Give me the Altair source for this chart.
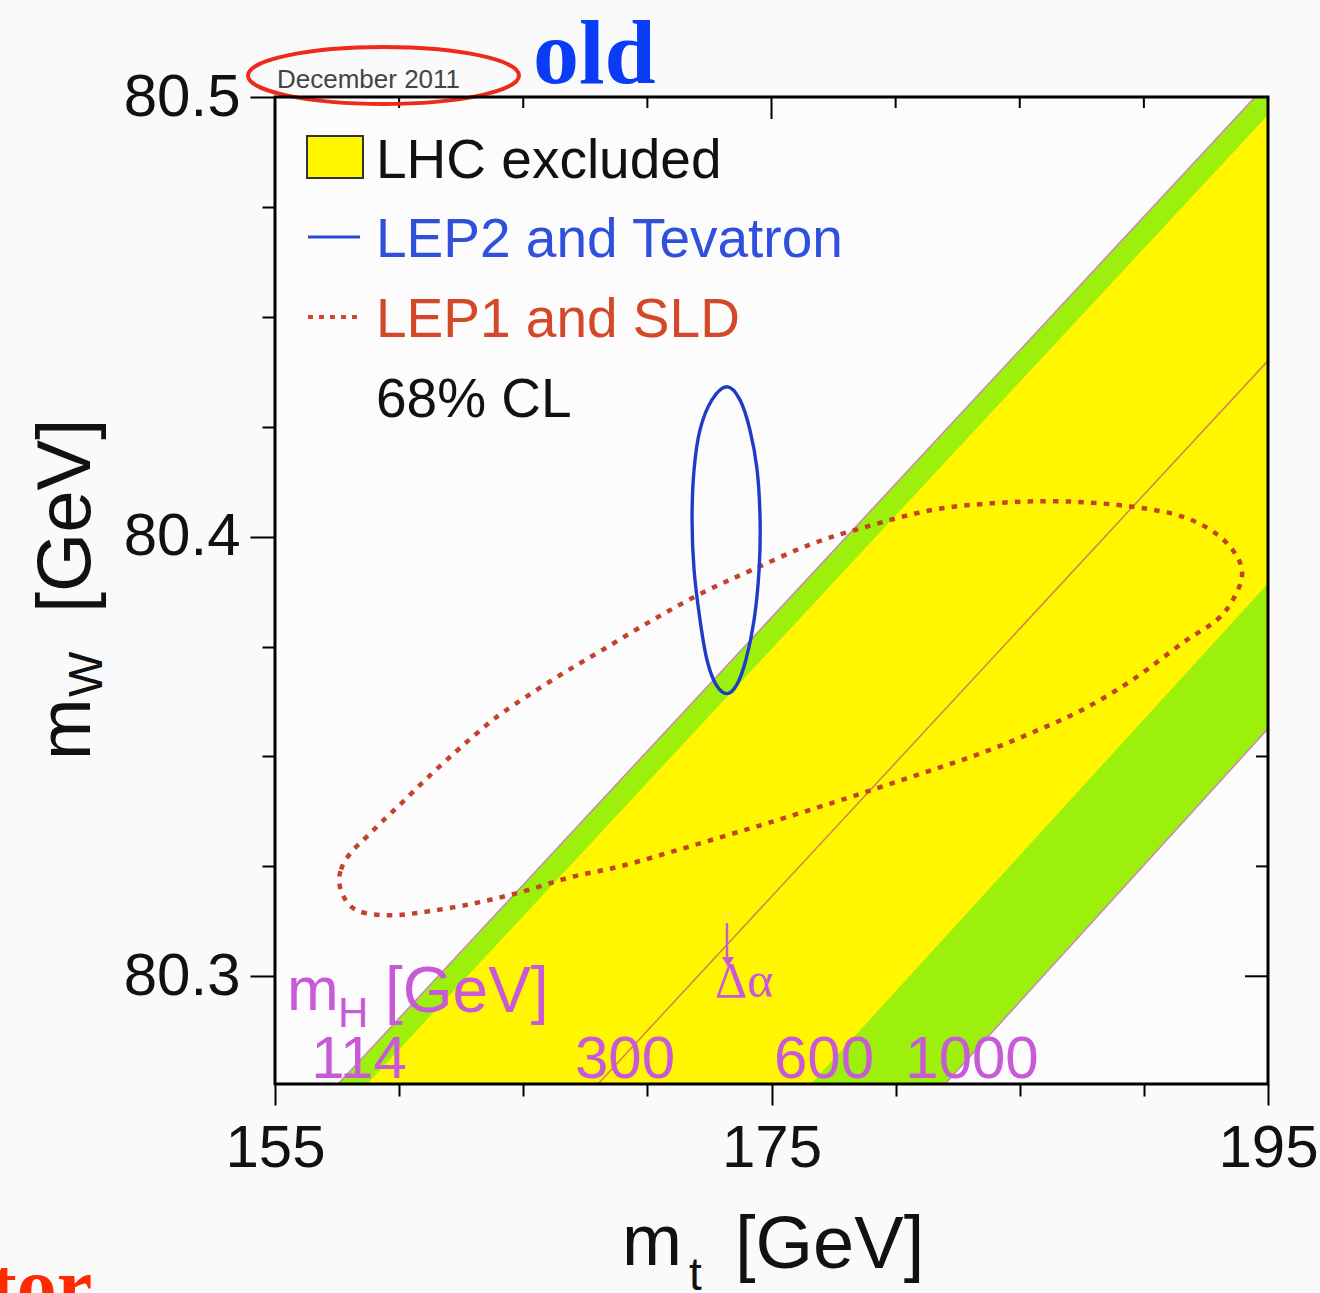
import altair as alt
import pandas as pd

# ---------------- data ----------------
x_domain = [155, 195]
y_domain = [80.2755, 80.5]
x_tick_values = [155, 160, 165, 170, 175, 180, 185, 190, 195]
y_tick_values = [80.3, 80.325, 80.35, 80.375, 80.4, 80.425, 80.45, 80.475, 80.5]
top_major_ticks = [175]
top_minor_ticks = [160, 165, 170, 180, 185, 190]
right_major_ticks = [80.3, 80.4]
right_minor_ticks = [80.325, 80.35, 80.375, 80.425, 80.45, 80.475]

# diagonal mH bands: m_t of each boundary at the bottom and top m_W edge
band_mw = [80.2755, 80.5]
edge_outer_left = [157.54, 194.48]
edge_inner_left = [158.71, 195.67]
line_mh300 = [168.01, 204.84]
edge_inner_right = [176.59, 212.89]
edge_outer_right = [181.99, 218.12]

# LEP2 and Tevatron 68% CL contour
lep2_mt = [173.21, 173.73, 174.13, 174.42, 174.54, 174.50, 174.30, 173.97, 173.61,
           173.21, 172.76, 172.40, 172.12, 171.88, 171.80, 171.88, 172.12, 172.60]
lep2_mw = [80.4341, 80.4311, 80.4243, 80.4152, 80.4039, 80.3925, 80.3811, 80.3720, 80.3664,
           80.3643, 80.3664, 80.3720, 80.3811, 80.3925, 80.4039, 80.4152, 80.4243, 80.4311]

# LEP1 and SLD 68% CL contour
lep1_mt = [157.58, 157.66, 157.86, 158.18, 158.67, 159.31, 160.12, 161.08, 162.17,
           163.18, 164.18, 166.20, 168.21, 170.23, 172.24, 174.25, 176.55, 178.85,
           181.51, 184.20, 186.90, 189.56, 191.58, 192.95, 193.75, 193.95, 193.59,
           192.95, 191.58, 189.56, 187.55, 185.53, 183.52, 181.51, 179.49, 177.48,
           174.94, 172.93, 170.91, 168.90, 166.88, 164.87, 162.86, 160.84, 159.71,
           158.71, 158.10, 157.74]
lep1_mw = [80.3216, 80.3243, 80.3266, 80.3289, 80.3316, 80.3352, 80.3395, 80.3448, 80.3505,
           80.3555, 80.3600, 80.3675, 80.3743, 80.3811, 80.3873, 80.3925, 80.3982, 80.4023,
           80.4061, 80.4077, 80.4080, 80.4068, 80.4045, 80.4005, 80.3955, 80.3909, 80.3857,
           80.3811, 80.3759, 80.3675, 80.3607, 80.3555, 80.3509, 80.3470, 80.3432, 80.3395,
           80.3350, 80.3316, 80.3282, 80.3250, 80.3225, 80.3191, 80.3164, 80.3145, 80.3139,
           80.3143, 80.3157, 80.3184]

mh_labels = ["114", "300", "600", "1000"]
legend_labels = ["LHC excluded", "LEP2 and Tevatron", "LEP1 and SLD", "68% CL"]

# ---------------- styling ----------------
FONT = "Liberation Sans"
SERIF = "Liberation Serif"
YELLOW = "#fff600"
GREEN = "#9cf00c"
BLUE = "#1f3cc8"
RED_DOT = "#c2422a"
MAGENTA = "#c85ad8"
W, H = 993, 987

xscale = alt.Scale(domain=x_domain, nice=False, zero=False)
yscale = alt.Scale(domain=y_domain, nice=False, zero=False)

xaxis = alt.Axis(
    values=x_tick_values, title=None, domain=False, grid=False,
    tickColor="black", tickWidth=2,
    tickSize={"condition": {"test": "(datum.value - 155) % 20 == 0", "value": 21}, "value": 12},
    labelExpr="(datum.value - 155) % 20 == 0 ? datum.label : ''",
    labelFont=FONT, labelFontSize=60, labelColor="#111111", labelPadding=14,
    labelFlush=False, labelOverlap=False,
)
yaxis = alt.Axis(
    values=y_tick_values, title=None, domain=False, grid=False,
    tickColor="black", tickWidth=2,
    tickSize={"condition": {"test": "abs(datum.value*10 - round(datum.value*10)) < 0.001", "value": 25}, "value": 13},
    labelExpr="abs(datum.value*10 - round(datum.value*10)) < 0.001 ? format(datum.value, '.1f') : ''",
    labelFont=FONT, labelFontSize=60, labelColor="#111111", labelPadding=10,
    labelFlush=False, labelOverlap=False,
)


def X(field):
    return alt.X(field, type="quantitative", scale=xscale, axis=xaxis)


def Y(field):
    return alt.Y(field, type="quantitative", scale=yscale, axis=yaxis)


bands = pd.DataFrame({
    "mw": band_mw, "l1": edge_outer_left, "l2": edge_inner_left, "l3": line_mh300,
    "l4": edge_inner_right, "l5": edge_outer_right,
})

# inward ticks on top and right
top_major = alt.Chart(pd.DataFrame({"t": top_major_ticks})).mark_rule(color="black", strokeWidth=2).encode(
    x=X("t"), y=alt.value(0), y2=alt.value(22))
top_minor = alt.Chart(pd.DataFrame({"t": top_minor_ticks})).mark_rule(color="black", strokeWidth=2).encode(
    x=X("t"), y=alt.value(0), y2=alt.value(11))
right_major = alt.Chart(pd.DataFrame({"t": right_major_ticks})).mark_rule(color="black", strokeWidth=2).encode(
    y=Y("t"), x=alt.value(W), x2=alt.value(W - 23))
right_minor = alt.Chart(pd.DataFrame({"t": right_minor_ticks})).mark_rule(color="black", strokeWidth=2).encode(
    y=Y("t"), x=alt.value(W), x2=alt.value(W - 12))

green = alt.Chart(bands).mark_area(orient="horizontal", color=GREEN, clip=True, opacity=1).encode(
    y=Y("mw"), x=X("l1"), x2="l5")
yellow = alt.Chart(bands).mark_area(orient="horizontal", color=YELLOW, clip=True, opacity=1).encode(
    y=Y("mw"), x=X("l2"), x2="l4")

edge_lines = []
for col, colr in [("l1", "#c88cb4"), ("l5", "#c88cb4"), ("l3", "#d4884e")]:
    edge_lines.append(
        alt.Chart(bands).mark_line(color=colr, strokeWidth=1.6, clip=True).encode(
            x=X(col), y=Y("mw"), order=alt.Order("mw:Q"))
    )

lep2 = pd.DataFrame({"mt": lep2_mt, "mw": lep2_mw, "i": list(range(len(lep2_mt)))})
lep1 = pd.DataFrame({"mt": lep1_mt, "mw": lep1_mw, "i": list(range(len(lep1_mt)))})

lep1_line = alt.Chart(lep1).mark_line(
    interpolate="cardinal-closed", color=RED_DOT, strokeWidth=4.5, strokeDash=[5.5, 7.2]
).encode(x=X("mt"), y=Y("mw"), order=alt.Order("i:Q"))
lep2_line = alt.Chart(lep2).mark_line(
    interpolate="cardinal-closed", color=BLUE, strokeWidth=3.4
).encode(x=X("mt"), y=Y("mw"), order=alt.Order("i:Q"))


def txt(text, x, y, size, color="#111111", font=FONT, weight="normal", align="left", angle=0):
    return alt.Chart(pd.DataFrame({"t": [text]})).mark_text(
        font=font, fontSize=size, color=color, fontWeight=weight, align=align,
        baseline="alphabetic", angle=angle,
    ).encode(text="t:N", x=alt.value(x), y=alt.value(y))


one = pd.DataFrame({"t": [0]})

# legend block
swatch = alt.Chart(one).mark_rect(fill=YELLOW, stroke="#333333", strokeWidth=2).encode(
    x=alt.value(32), x2=alt.value(88), y=alt.value(39), y2=alt.value(81))
leg_blue = alt.Chart(one).mark_rule(color="#2a48d0", strokeWidth=3).encode(
    x=alt.value(33), x2=alt.value(85), y=alt.value(140))
leg_red = alt.Chart(one).mark_rule(color="#d4482a", strokeWidth=4, strokeDash=[5, 6]).encode(
    x=alt.value(33), x2=alt.value(85), y=alt.value(220))

legend_texts = [
    txt(legend_labels[0], 101, 81, 55, "#111111"),
    txt(legend_labels[1], 101, 160, 55, "#2f50dc"),
    txt(legend_labels[2], 101, 240, 55, "#d4482a"),
    txt(legend_labels[3], 101, 320, 55, "#111111"),
]

# m_H annotations
mh_texts = [
    txt("m", 12, 913, 62, MAGENTA),
    txt("H", 63, 930, 42, MAGENTA),
    txt("[GeV]", 110, 915, 64, MAGENTA),
    txt(mh_labels[0], 84, 981, 60, MAGENTA, align="center"),
    txt(mh_labels[1], 350, 981, 60, MAGENTA, align="center"),
    txt(mh_labels[2], 549, 981, 60, MAGENTA, align="center"),
    txt(mh_labels[3], 697, 981, 60, MAGENTA, align="center"),
    txt("Δα", 440, 900, 50, MAGENTA, font=SERIF),
]
arrow_line = alt.Chart(one).mark_rule(color=MAGENTA, strokeWidth=2.5).encode(
    x=alt.value(452), y=alt.value(826), y2=alt.value(866))
arrow_head = alt.Chart(one).mark_point(shape="triangle-down", filled=True, size=140,
                                       color=MAGENTA, opacity=1).encode(
    x=alt.value(453), y=alt.value(865))

# axis titles
axis_titles = [
    txt("m", 347, 1168, 72),
    txt("t", 414, 1193, 46),
    txt("[GeV]", 460, 1171, 74),
    txt("m", -185, 663, 74, angle=270),
    txt("W", -173, 600, 48, angle=270),
    txt("[GeV]", -185, 516, 76, angle=270),
]

# slide overlays
overlays = [
    txt("December 2011", 2, -9, 26, "#444444"),
    txt("old", 258, -14, 92, "#0a3cf5", font=SERIF, weight="bold"),
    txt("tor", -285, 1216, 80, "#ff2a00", font=SERIF, weight="bold"),
]
ring = alt.Chart(one).mark_point(
    shape="M -1 0 A 1 0.21 0 1 0 1 0 A 1 0.21 0 1 0 -1 0 Z",
    size=73441, filled=False, stroke="#ee2b1b", strokeWidth=4, opacity=1,
).encode(x=alt.value(108.5), y=alt.value(-21.5))

frame = alt.Chart(one).mark_rect(fillOpacity=0, stroke="black", strokeWidth=3).encode(
    x=alt.value(0), x2=alt.value(W), y=alt.value(0), y2=alt.value(H))

chart = alt.layer(
    top_major, top_minor, right_major, right_minor,
    green, yellow, *edge_lines, lep1_line, lep2_line,
    swatch, leg_blue, leg_red, *legend_texts,
    *mh_texts, arrow_line, arrow_head,
    *axis_titles, *overlays, ring, frame,
).properties(
    width=W, height=H,
    autosize=alt.AutoSizeParams(type="none"),
    padding={"left": 275, "top": 97, "right": 52, "bottom": 209},
    background="#fafafa",
).configure_view(strokeWidth=0, fill="#fdfcfd")

chart.save("out.html", embed_options={"renderer": "svg", "actions": False})
